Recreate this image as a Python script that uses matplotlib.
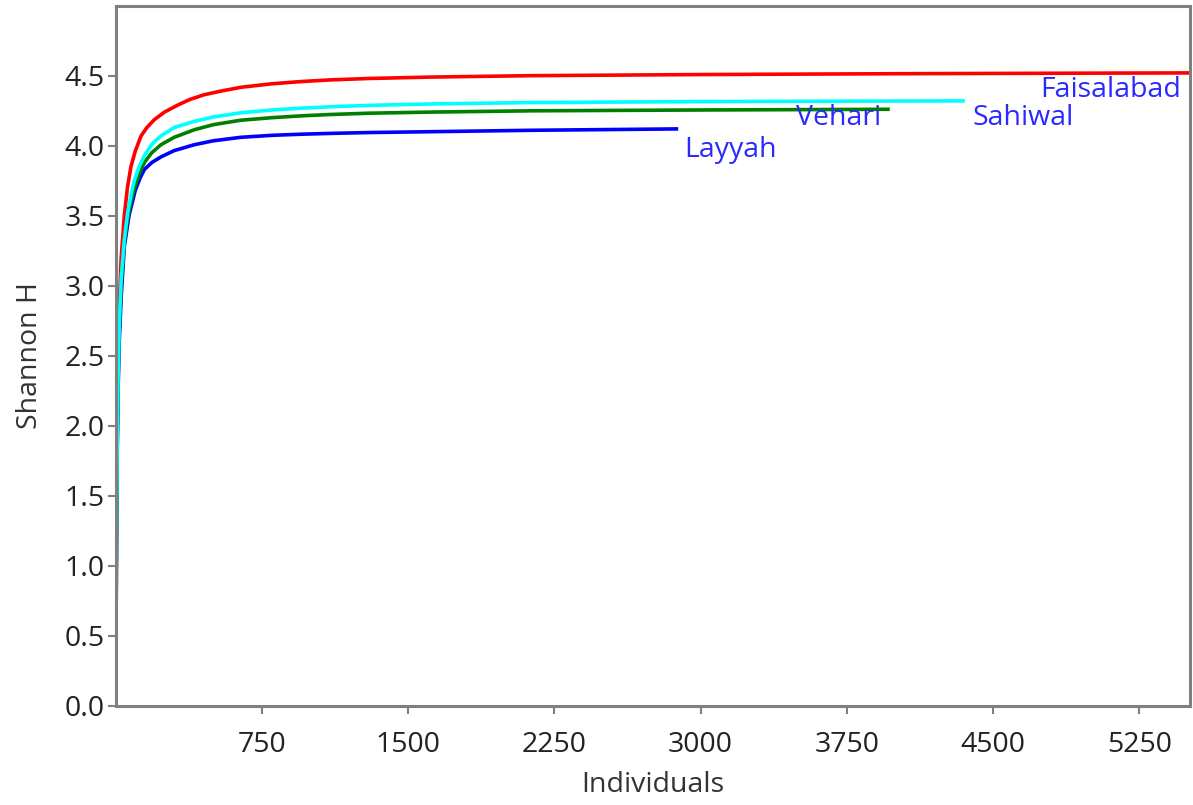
import matplotlib.pyplot as plt

plt.rcParams['font.family'] = ['Open Sans', 'DejaVu Sans']

# rarefaction curves: (individuals, Shannon H)
fsd_x = [1, 2, 3, 5, 8, 12, 18, 28, 35, 44, 60, 78, 100, 130, 160, 198, 250, 318, 380, 454, 540, 642, 800, 950, 1104, 1300, 1616, 2129, 3000, 4000, 5000, 5600]
fsd_y = [0, 0.6, 1.0, 1.5, 2.0, 2.45, 2.85, 3.2, 3.33, 3.5, 3.7, 3.85, 3.96, 4.07, 4.13, 4.186, 4.24, 4.29, 4.33, 4.364, 4.39, 4.417, 4.442, 4.458, 4.47, 4.48, 4.49, 4.50, 4.508, 4.514, 4.518, 4.52]

sah_x = [1, 2, 3, 5, 8, 12, 18, 28, 44, 61, 80, 95, 120, 147, 185, 232, 300, 403, 500, 642, 800, 950, 1104, 1300, 1616, 2129, 3000, 3750, 4355]
sah_y = [0, 0.58, 0.97, 1.45, 1.93, 2.35, 2.72, 3.05, 3.33, 3.52, 3.66, 3.75, 3.85, 3.93, 4.01, 4.07, 4.13, 4.174, 4.205, 4.235, 4.255, 4.268, 4.278, 4.288, 4.298, 4.308, 4.315, 4.318, 4.32]

veh_x = [1, 2, 3, 5, 8, 12, 18, 28, 44, 61, 80, 95, 120, 147, 185, 232, 300, 403, 500, 642, 800, 950, 1104, 1300, 1616, 2129, 3000, 3970]
veh_y = [0, 0.58, 0.96, 1.43, 1.9, 2.32, 2.68, 3.0, 3.31, 3.48, 3.61, 3.69, 3.8, 3.88, 3.95, 4.007, 4.06, 4.114, 4.15, 4.182, 4.2, 4.213, 4.223, 4.232, 4.24, 4.249, 4.255, 4.26]

lay_x = [1, 2, 3, 5, 8, 12, 18, 28, 44, 68, 100, 125, 147, 185, 232, 300, 403, 500, 642, 800, 950, 1104, 1300, 1616, 2129, 2885]
lay_y = [0, 0.57, 0.94, 1.4, 1.85, 2.25, 2.6, 2.92, 3.28, 3.5, 3.68, 3.77, 3.83, 3.88, 3.92, 3.965, 4.007, 4.035, 4.06, 4.074, 4.082, 4.088, 4.094, 4.10, 4.11, 4.12]

names = ['Faisalabad', 'Layyah', 'Vehari', 'Sahiwal']
xs = [fsd_x, lay_x, veh_x, sah_x]
ys = [fsd_y, lay_y, veh_y, sah_y]
colors = ['#ff0000', '#0000ff', '#008000', '#00ffff']

# label anchors: (x, y, horizontal alignment)
label_pos = {'Faisalabad': (5465, 4.50, 'right'), 'Layyah': (2918, 4.07, 'left'),
             'Vehari': (3487, 4.30, 'left'), 'Sahiwal': (4394, 4.30, 'left')}

fig = plt.figure(figsize=(11.93, 8.05), dpi=100)
ax = fig.add_axes([0.097, 0.123, 0.9005, 0.870])

for name, x, y, c in zip(names, xs, ys, colors):
    ax.plot(x, y, '-', color=c, lw=2.6, solid_capstyle='butt', solid_joinstyle='round')

for name in names:
    px, py, ha = label_pos[name]
    ax.text(px, py, name, color='#2a2aff', fontsize=20.5, ha=ha, va='top')

ax.set_xlim(0, 5510)
ax.set_ylim(0, 5.0)
ax.set_xticks([750, 1500, 2250, 3000, 3750, 4500, 5250])
ax.set_yticks([0.0, 0.5, 1.0, 1.5, 2.0, 2.5, 3.0, 3.5, 4.0, 4.5])
ax.set_yticklabels(['%.1f' % v for v in ax.get_yticks()])

for s in ax.spines.values():
    s.set_color('#808080')
    s.set_linewidth(2.2)
ax.tick_params(length=6, width=1.5, color='#808080', labelsize=20.5, labelcolor='#222222')
ax.tick_params(axis='x', pad=12)
ax.tick_params(axis='y', pad=2)

ax.set_xlabel('Individuals', fontsize=20.5, color='#333333', labelpad=9)
ax.set_ylabel('Shannon H', fontsize=20.5, color='#333333', labelpad=15)

fig.savefig('out.png', dpi=100)
